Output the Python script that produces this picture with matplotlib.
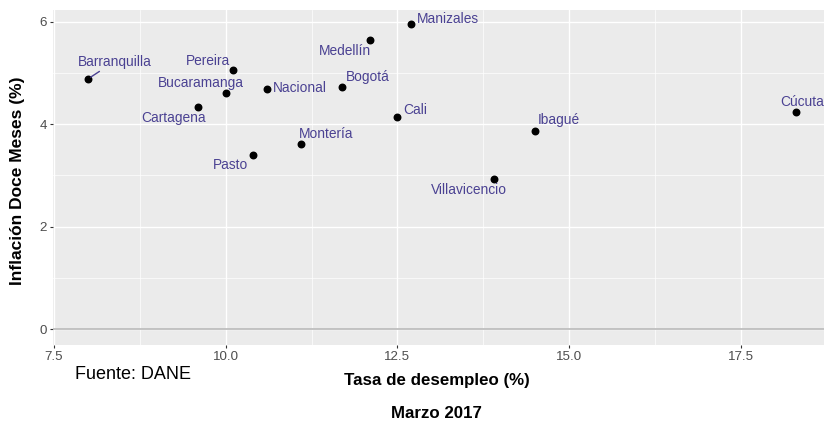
import matplotlib
matplotlib.use("Agg")
import matplotlib.pyplot as plt
from matplotlib.ticker import MultipleLocator

plt.rcParams['font.family'] = ['Liberation Sans', 'DejaVu Sans']

ciudades = ["Barranquilla", "Pereira", "Bucaramanga", "Cartagena", "Nacional",
            "Pasto", "Montería", "Bogotá", "Medellín", "Cali", "Manizales",
            "Ibagué", "Villavicencio", "Cúcuta"]
desempleo = [8.0, 10.1, 10.0, 9.6, 10.6, 10.4, 11.1, 11.7, 12.1, 12.5, 12.7,
             14.5, 13.9, 18.3]
inflacion = [4.89, 5.06, 4.61, 4.34, 4.69, 3.39, 3.61, 4.73, 5.65, 4.14, 5.95,
             3.86, 2.93, 4.23]

# label offsets in pixels (dx, dy), like ggrepel placed them
offsets = {
    "Barranquilla": (26, 17), "Pereira": (-25, 9), "Bucaramanga": (-25, 10),
    "Cartagena": (-25, -11), "Nacional": (33, 1), "Pasto": (-23, -10),
    "Montería": (25, 10), "Bogotá": (25, 10), "Medellín": (-25, -11),
    "Cali": (18, 7), "Manizales": (37, 5), "Ibagué": (24, 11),
    "Villavicencio": (-25, -11), "Cúcuta": (7, 10),
}

label_color = "#4a4192"
px = 0.72  # pixels -> points at dpi 100

fig = plt.figure(figsize=(8.24, 4.23), dpi=100)
ax = fig.add_axes([53 / 824, (423 - 345) / 423, (831 - 53) / 824, 335 / 423])
ax.set_facecolor("#EBEBEB")
for s in ax.spines.values():
    s.set_visible(False)

ax.set_xlim(7.485, 18.815)
ax.set_ylim(-0.31, 6.23)
ax.xaxis.set_minor_locator(MultipleLocator(1.25))
ax.yaxis.set_major_locator(MultipleLocator(2))
ax.yaxis.set_minor_locator(MultipleLocator(1))
ax.set_xticks([7.5, 10.0, 12.5, 15.0, 17.5])
ax.set_xticklabels(["7.5", "10.0", "12.5", "15.0", "17.5"])

ax.grid(which="major", color="white", lw=1.0)
ax.grid(which="minor", color="white", lw=0.5)
ax.set_axisbelow(True)
ax.tick_params(which="major", length=2.5, width=0.8, color="#333333",
               labelcolor="#4D4D4D", labelsize=9.6, pad=2)
ax.tick_params(which="minor", length=0)

ax.axhline(0, color="#BEBEBE", lw=1.3, zorder=1.5)
ax.scatter(desempleo, inflacion, s=22, color="black", zorder=3)

for name, x, y in zip(ciudades, desempleo, inflacion):
    dx, dy = offsets[name]
    kw = {}
    if name == "Barranquilla":
        kw["arrowprops"] = dict(arrowstyle="-", color=label_color, lw=1,
                                shrinkA=0, shrinkB=2)
    ax.annotate(name, (x, y), xytext=(dx * px, dy * px),
                textcoords="offset points", ha="center", va="center",
                color=label_color, fontsize=9.9, annotation_clip=False, **kw)

fig.text(18 / 824, 1 - 181 / 423, "Inflación Doce Meses (%)", rotation=90,
         ha="center", va="center", fontsize=12.5, fontweight="bold")
fig.text(436.5 / 824, 1 - 380 / 423, "Tasa de desempleo (%)", ha="center",
         va="center", fontsize=12.2, fontweight="bold")
fig.text(436.5 / 824, 1 - 413 / 423, "Marzo 2017", ha="center", va="center",
         fontsize=12.2, fontweight="bold")
fig.text(75 / 824, 1 - 374 / 423, "Fuente: DANE", ha="left", va="center",
         fontsize=13)

fig.savefig("out.png", dpi=100)
